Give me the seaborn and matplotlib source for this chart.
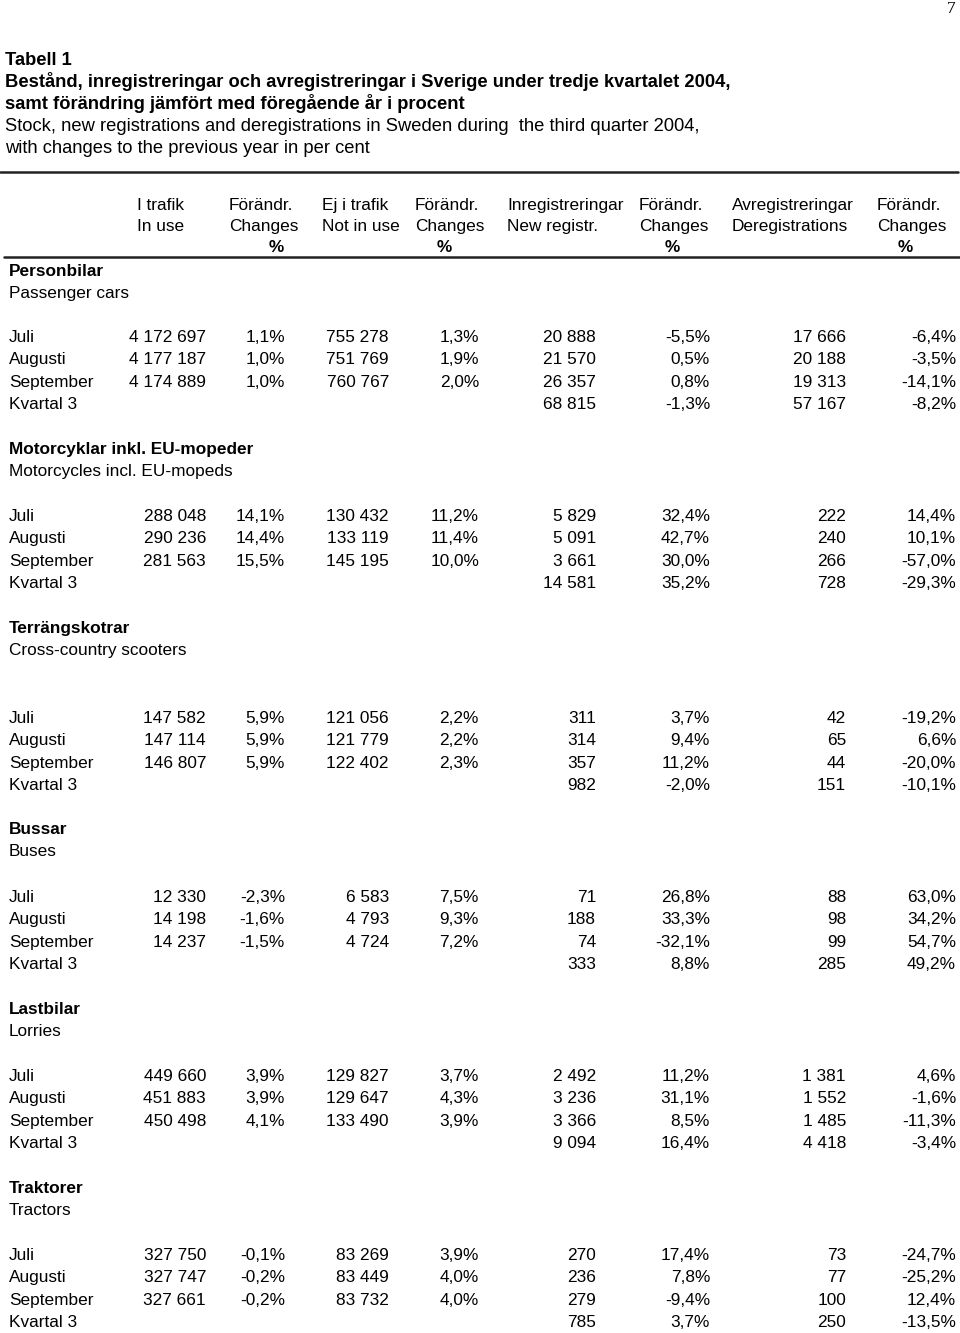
import pandas as pd
import seaborn as sns
import matplotlib.pyplot as plt

"""### Table data"""

months = ["Juli", "Augusti", "September", "Kvartal 3"]

categories = ["Personbilar", "Motorcyklar inkl. EU-mopeder", "Terrängskotrar",
              "Bussar", "Lastbilar", "Traktorer"]
categories_en = ["Passenger cars", "Motorcycles incl. EU-mopeds", "Cross-country scooters",
                 "Buses", "Lorries", "Tractors"]

# one list per column, rows = categories x months (Kvartal 3 has no stock values)
in_use = [
    [4172697, 4177187, 4174889, None],
    [288048, 290236, 281563, None],
    [147582, 147114, 146807, None],
    [12330, 14198, 14237, None],
    [449660, 451883, 450498, None],
    [327750, 327747, 327661, None],
]
in_use_chg = [
    [1.1, 1.0, 1.0, None],
    [14.1, 14.4, 15.5, None],
    [5.9, 5.9, 5.9, None],
    [-2.3, -1.6, -1.5, None],
    [3.9, 3.9, 4.1, None],
    [-0.1, -0.2, -0.2, None],
]
not_in_use = [
    [755278, 751769, 760767, None],
    [130432, 133119, 145195, None],
    [121056, 121779, 122402, None],
    [6583, 4793, 4724, None],
    [129827, 129647, 133490, None],
    [83269, 83449, 83732, None],
]
not_in_use_chg = [
    [1.3, 1.9, 2.0, None],
    [11.2, 11.4, 10.0, None],
    [2.2, 2.2, 2.3, None],
    [7.5, 9.3, 7.2, None],
    [3.7, 4.3, 3.9, None],
    [3.9, 4.0, 4.0, None],
]
new_reg = [
    [20888, 21570, 26357, 68815],
    [5829, 5091, 3661, 14581],
    [311, 314, 357, 982],
    [71, 188, 74, 333],
    [2492, 3236, 3366, 9094],
    [270, 236, 279, 785],
]
new_reg_chg = [
    [-5.5, 0.5, 0.8, -1.3],
    [32.4, 42.7, 30.0, 35.2],
    [3.7, 9.4, 11.2, -2.0],
    [26.8, 33.3, -32.1, 8.8],
    [11.2, 31.1, 8.5, 16.4],
    [17.4, 7.8, -9.4, 3.7],
]
dereg = [
    [17666, 20188, 19313, 57167],
    [222, 240, 266, 728],
    [42, 65, 44, 151],
    [88, 98, 99, 285],
    [1381, 1552, 1485, 4418],
    [73, 77, 100, 250],
]
dereg_chg = [
    [-6.4, -3.5, -14.1, -8.2],
    [14.4, 10.1, -57.0, -29.3],
    [-19.2, 6.6, -20.0, -10.1],
    [63.0, 34.2, 54.7, 49.2],
    [4.6, -1.6, -11.3, -3.4],
    [-24.7, -25.2, 12.4, -13.5],
]

header_sv = ["I trafik", "Förändr.", "Ej i trafik", "Förändr.",
             "Inregistreringar", "Förändr.", "Avregistreringar", "Förändr."]
header_en = ["In use", "Changes", "Not in use", "Changes",
             "New registr.", "Changes", "Deregistrations", "Changes"]

title_lines = ["Tabell 1",
               "Bestånd, inregistreringar och avregistreringar i Sverige under tredje kvartalet 2004,",
               "samt förändring jämfört med föregående år i procent",
               "Stock, new registrations and deregistrations in Sweden during  the third quarter 2004,",
               "with changes to the previous year in per cent"]


def fmt_num(v):
    if v is None:
        return ""
    return f"{v:,}".replace(",", " ")


def fmt_pct(v):
    if v is None:
        return ""
    return f"{v:.1f}%".replace(".", ",")


columns = [in_use, in_use_chg, not_in_use, not_in_use_chg, new_reg, new_reg_chg, dereg, dereg_chg]
formatters = [fmt_num, fmt_pct] * 4

rows = []
for ci, cat in enumerate(categories):
    for mi, month in enumerate(months):
        rows.append([ci, mi, month] + [f(col[ci][mi]) for col, f in zip(columns, formatters)])
df = pd.DataFrame(rows, columns=["cat", "row", "month"] + [f"c{i}" for i in range(8)])

"""### Layout"""

sns.set_theme(style="white")
plt.rcParams['font.family'] = ['Liberation Sans', 'DejaVu Sans']
plt.rcParams['text.color'] = 'black'
fs = 12.4
fs_title = 13.2
base = 6  # baseline offset from the visual row centre

fig = plt.figure(figsize=(9.6, 13.33), dpi=100)
ax = fig.add_axes([0, 0, 1, 1])
ax.set_xlim(0, 960)
ax.set_ylim(1333, 0)
ax.axis("off")


def put(x, y, s, ha="left", **kw):
    ax.text(x, y + base, s, ha=ha, va="baseline", fontsize=kw.pop("fontsize", fs), **kw)


col_right = [206, 285, 389, 479, 596, 710, 846, 956]
head_left = [137, 229, 322, 415, 507, 639, 732, 877]
pct_x = {1: 276, 3: 444, 5: 672, 7: 905}
row_step = 22.4
section_first_row = [336, 515, 717, 896, 1075, 1254]
label_gap = [66, 67, 90, 68, 67, 67]

put(955, 7, "7", ha="right", family="Liberation Serif")
for i, line in enumerate(title_lines):
    put(5, 59 + i * 22, line, fontsize=fs_title, fontweight="bold" if i < 3 else "normal")

ax.plot([0, 958], [172, 172], color="#222222", lw=1.8)
ax.plot([4, 960], [257, 257], color="#222222", lw=1.8)

for i in range(8):
    put(head_left[i], 204, header_sv[i])
    put(head_left[i], 225, header_en[i])
    if i in pct_x:
        put(pct_x[i], 246, "%", ha="center", fontweight="bold")

for ci in range(len(categories)):
    y0 = section_first_row[ci]
    put(9, y0 - label_gap[ci], categories[ci], fontweight="bold")
    put(9, y0 - label_gap[ci] + 22, categories_en[ci])
    sub = df[df["cat"] == ci]
    for _, r in sub.iterrows():
        y = y0 + r["row"] * row_step
        put(9, y, r["month"])
        for i in range(8):
            put(col_right[i], y, r[f"c{i}"], ha="right")

fig.savefig("out.png", dpi=100)
